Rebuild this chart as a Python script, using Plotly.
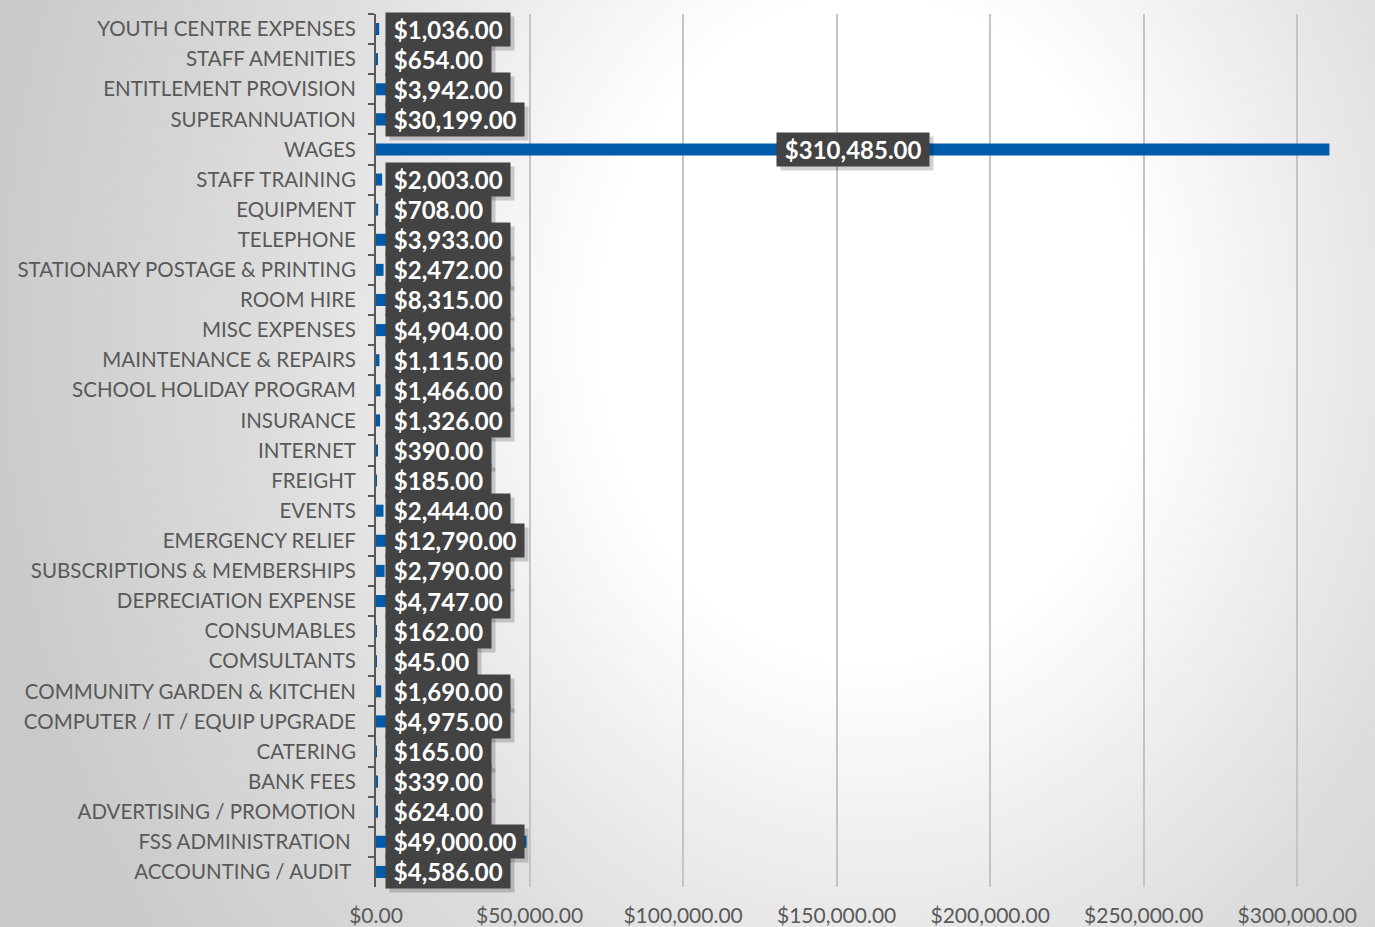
import base64
import plotly.graph_objects as go

categories = [
    "YOUTH CENTRE EXPENSES", "STAFF AMENITIES", "ENTITLEMENT PROVISION", "SUPERANNUATION",
    "WAGES", "STAFF TRAINING", "EQUIPMENT", "TELEPHONE", "STATIONARY POSTAGE & PRINTING",
    "ROOM HIRE", "MISC EXPENSES", "MAINTENANCE & REPAIRS", "SCHOOL HOLIDAY PROGRAM",
    "INSURANCE", "INTERNET", "FREIGHT", "EVENTS", "EMERGENCY RELIEF",
    "SUBSCRIPTIONS & MEMBERSHIPS", "DEPRECIATION EXPENSE", "CONSUMABLES", "COMSULTANTS",
    "COMMUNITY GARDEN & KITCHEN", "COMPUTER / IT / EQUIP UPGRADE", "CATERING", "BANK FEES",
    "ADVERTISING / PROMOTION", "FSS ADMINISTRATION\u00a0", "ACCOUNTING / AUDIT\u00a0",
]
values = [
    1036, 654, 3942, 30199, 310485, 2003, 708, 3933, 2472, 8315, 4904, 1115, 1466, 1326,
    390, 185, 2444, 12790, 2790, 4747, 162, 45, 1690, 4975, 165, 339, 624, 49000, 4586,
]
tick_vals = [0, 50000, 100000, 150000, 200000, 250000, 300000]
tick_text = ["$0.00", "$50,000.00", "$100,000.00", "$150,000.00", "$200,000.00",
             "$250,000.00", "$300,000.00"]

W, H = 1375, 927
ML, MR, MT, MB = 376, 1, 14, 40
XMAX = 325000
PW = W - ML - MR
PH = H - MT - MB
N = len(categories)

svg = f'''<svg xmlns="http://www.w3.org/2000/svg" width="{W}" height="{H}">
<defs><radialGradient id="g" gradientUnits="userSpaceOnUse" cx="870" cy="330" r="900"
 gradientTransform="translate(870 330) scale(1 1.22) translate(-870 -330)">
<stop offset="0" stop-color="#ffffff"/><stop offset="0.3" stop-color="#ffffff"/>
<stop offset="0.65" stop-color="#dedede"/><stop offset="1" stop-color="#c9c9c9"/>
</radialGradient></defs>
<rect width="{W}" height="{H}" fill="url(#g)"/></svg>'''
bg_src = "data:image/svg+xml;base64," + base64.b64encode(svg.encode()).decode()

fig = go.Figure()
fig.add_trace(go.Bar(
    x=values, y=categories, orientation="h",
    marker=dict(color="#005BAA", line=dict(width=0)),
    width=0.4, hoverinfo="x+y",
))

annotations = []
shadows = []
LBL_SIZE = 24
font_lbl = dict(family="Lato", size=LBL_SIZE, color="#ffffff")
for cat, v in zip(categories, values):
    txt = "\u00a0" + "${:,.2f}".format(v) + "\u00a0"
    half_w_px = len(txt) * 7 + 6
    center_px = v / 2 * PW / XMAX
    if center_px > half_w_px + 9:
        x, anchor, xs = v / 2, "center", 0
    else:
        x, anchor, xs = 0, "left", 9
    common = dict(x=x, y=cat, xref="x", yref="y", xanchor=anchor, yanchor="middle",
                  showarrow=False, borderpad=2)
    shadows.append(dict(text="<b>" + txt + "</b>", xshift=xs + 4, yshift=-4,
                        bgcolor="rgba(0,0,0,0.18)",
                        font=dict(family="Lato", size=LBL_SIZE, color="rgba(0,0,0,0)"),
                        **common))
    annotations.append(dict(text="<b>" + txt + "</b>", xshift=xs,
                            bgcolor="#434343", font=font_lbl, **common))

fig.update_layout(
    width=W, height=H,
    margin=dict(l=ML, r=MR, t=MT, b=MB, autoexpand=False),
    paper_bgcolor="#d6d6d6",
    plot_bgcolor="rgba(0,0,0,0)",
    showlegend=False,
    bargap=0.6,
    images=[dict(source=bg_src, xref="paper", yref="paper", x=-ML / PW, y=1 + MT / PH,
                 sizex=W / PW, sizey=H / PH, sizing="stretch", xanchor="left",
                 yanchor="top", layer="below")],
    xaxis=dict(
        range=[0, XMAX], tickvals=tick_vals, ticktext=tick_text,
        showgrid=True, gridcolor="#c4c4c4", gridwidth=2,
        zeroline=False, showline=False, ticks="",
        tickfont=dict(family="Lato", size=21, color="#595959"),
        ticklabelstandoff=14, fixedrange=True, automargin=False,
    ),
    yaxis=dict(
        range=[N - 0.5, -0.5], showgrid=False, zeroline=False,
        showline=True, linecolor="#595959", linewidth=2,
        ticks="outside", tickson="boundaries", ticklen=6, tickwidth=2, tickcolor="#595959",
        tickfont=dict(family="Lato", size=20.5, color="#595959"),
        ticklabelstandoff=14, fixedrange=True, automargin=False,
    ),
    annotations=shadows + annotations,
)

fig.write_html(
    "out.html",
    config={"displayModeBar": False},
    post_script="document.body.style.margin='0';document.body.style.overflow='hidden';",
)
